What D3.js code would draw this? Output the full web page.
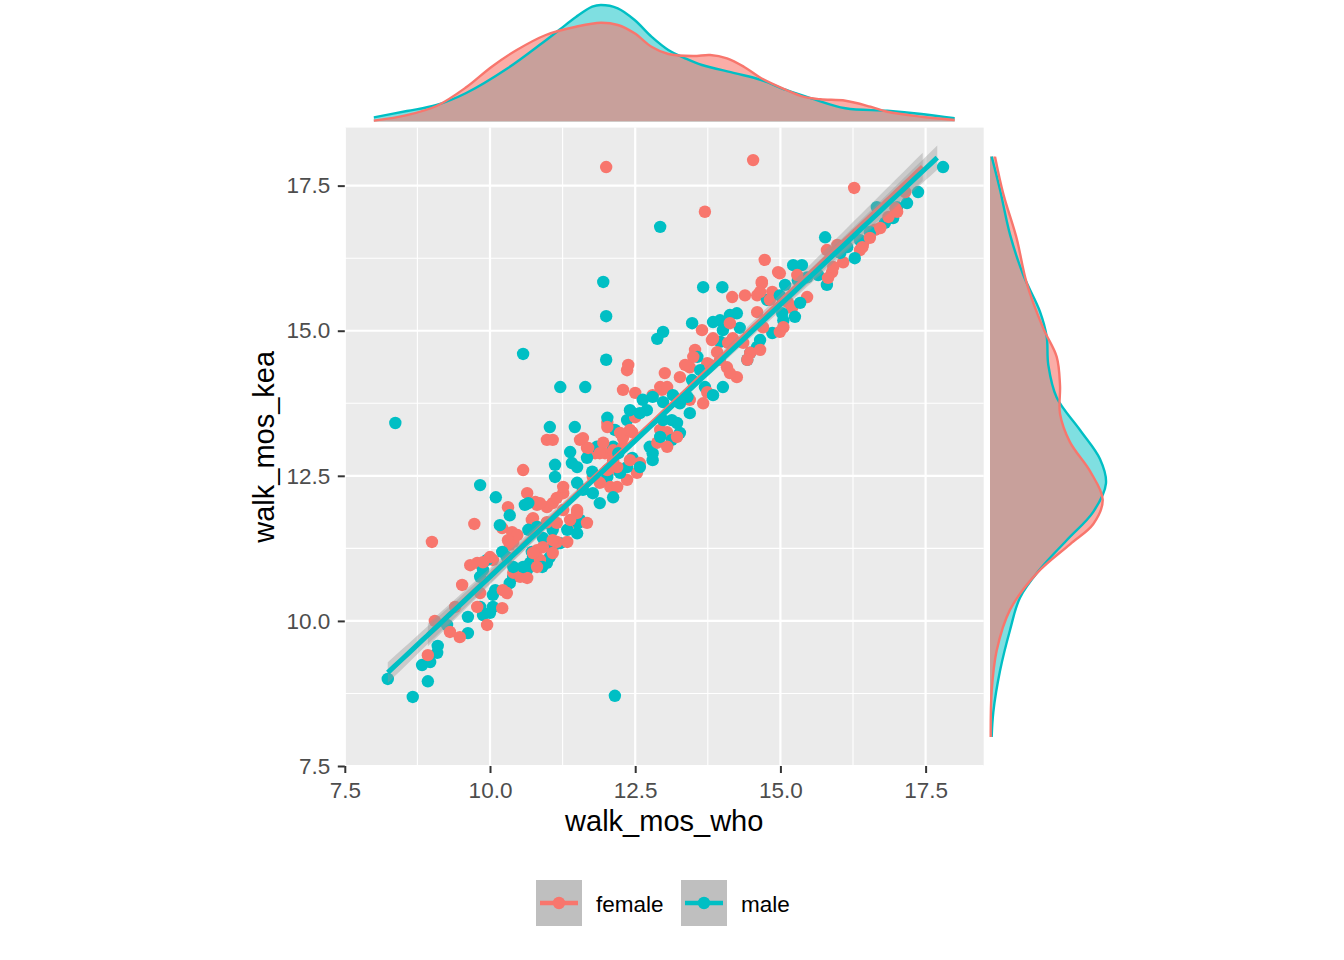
<!DOCTYPE html>
<html><head><meta charset="utf-8">
<script src="https://cdn.jsdelivr.net/npm/d3@7"></script>
<style>body{margin:0;background:#fff}text{font-family:"Liberation Sans",Arial,Helvetica,sans-serif}</style>
</head><body>
<svg id="chart" width="1344" height="960"></svg>
<script>
const groups = ["female", "male"];
const groupColors = ["#F8766D", "#00BFC4"];
const axisTicks = [7.5, 10, 12.5, 15, 17.5];
const axisTickLabels = ["7.5", "10.0", "12.5", "15.0", "17.5"];
const minorTicks = [8.75, 11.25, 13.75, 16.25];
const xTitle = "walk_mos_who";
const yTitle = "walk_mos_kea";

const femalePts = [[9.00,11.36],[9.73,11.67],[10.31,11.96],[10.64,12.20],[10.81,12.00],[10.98,11.96],[11.08,12.03],[10.21,11.60],[10.38,11.53],[10.40,11.36],[10.47,11.48],[10.72,11.74],[10.81,11.62],[9.66,10.96],[9.78,11.00],[10.05,11.05],[9.52,10.62],[9.40,10.24],[9.05,10.00],[9.31,9.81],[9.48,9.72],[9.95,9.93],[10.21,10.22],[10.22,10.53],[10.29,10.48],[9.83,10.48],[9.78,10.24],[10.40,10.83],[10.52,10.76],[10.64,10.74],[10.86,11.05],[10.81,11.22],[11.08,11.17],[11.15,11.36],[11.33,11.36],[11.41,11.70],[11.50,11.91],[8.93,9.41],
[10.98,13.12],[11.08,13.12],[10.57,12.60],[10.78,12.05],[10.86,12.03],[11.26,12.20],[10.74,11.77],[10.98,11.70],[11.15,11.69],[10.31,11.39],[10.34,11.31],[11.55,13.12],[11.67,12.98],[11.81,12.89],[11.98,12.89],[12.02,13.41],[12.29,13.98],[12.50,13.93],[12.36,14.32],[13.01,14.27],[12.96,13.98],[12.80,13.89],[12.50,13.51],[12.29,13.15],[12.45,13.25],[12.93,13.29],[13.05,13.25],[12.12,12.77],[12.19,12.60],[12.36,12.43],[12.53,12.55],[12.58,12.72],[11.77,12.48],[11.89,12.38],[12.07,12.31],[12.19,12.31],[11.26,12.31],[11.15,12.12],[11.26,11.91],[11.50,11.86],[11.67,11.69],[11.38,11.74],[11.08,11.39],[10.91,11.27],[10.74,11.17],[10.81,10.93],[10.00,11.10],[9.88,11.01],
[12.38,14.41],[13.27,14.20],[12.93,14.03],[13.05,14.03],[13.53,14.67],[13.44,14.37],[13.74,14.44],[13.96,14.50],[14.17,15.58],[14.39,15.61],[14.60,15.61],[14.68,15.82],[14.60,15.32],[14.86,15.67],[13.65,15.01],[13.82,14.84],[14.18,14.87],[14.08,14.37],[14.25,14.20],[14.13,14.27],[13.67,13.75],[13.74,13.94],[13.44,13.81],[12.41,13.29],[12.24,13.24],[12.02,13.34],[11.95,13.07],[11.89,12.89],[12.12,12.94],[12.88,13.07],[13.05,13.00],[13.22,13.17],[12.29,13.00],[12.41,12.77],[12.19,12.65],[12.02,12.60],[11.60,13.15],[11.69,12.98],
[13.70,17.05],[14.73,16.22],[14.96,16.01],[14.68,15.84],[14.65,15.67],[14.82,15.53],[15.13,15.49],[15.20,15.39],[15.46,15.58],[15.29,15.96],[15.80,16.39],[15.98,16.48],[16.08,16.18],[16.37,16.39],[16.63,16.74],[16.42,16.48],[15.89,16.01],[15.82,15.91],[13.84,14.87],[14.13,15.13],[14.10,14.79],[13.91,14.63],[13.50,14.55],[13.36,14.41],[14.36,14.79],[14.48,14.62],[14.65,14.67],[14.43,14.50],[13.79,14.41],[15.05,15.06],[14.99,14.98],[14.70,15.06],[16.27,17.46],[17.15,17.39],[17.01,17.05],[16.86,16.96],[16.41,16.44],[15.91,16.10],[14.99,15.99],[12.00,17.82],[14.53,17.94],[16.72,16.77],[16.98,17.11],[16.54,16.60]];

const malePts = [[9.83,12.34],[10.10,12.13],[8.24,9.00],[8.67,8.69],[8.93,8.96],[8.83,9.24],[8.97,9.29],[9.09,9.45],[9.10,9.57],[9.62,10.07],[9.62,9.79],[9.26,9.93],[9.88,10.10],[10.00,10.14],[9.83,10.24],[10.05,10.24],[10.05,10.45],[10.09,10.53],[9.83,10.76],[9.88,10.88],[9.95,11.05],[10.34,10.65],[10.40,10.76],[10.52,10.83],[10.64,10.88],[10.69,11.00],[10.74,11.10],[10.72,11.19],[10.98,11.00],[11.03,11.10],[11.08,11.27],[11.21,11.34],[10.17,11.65],[10.34,11.82],[10.60,12.00],[10.66,11.57],[10.91,11.43],[10.98,11.69],[11.08,11.57],[11.33,11.57],[11.50,11.51],[11.52,11.69],
[11.21,14.03],[11.64,14.03],[11.03,13.34],[11.46,13.34],[10.66,12.03],[11.38,12.91],[11.41,12.72],[11.50,12.65],[11.12,12.69],[11.12,12.48],[11.67,12.81],[11.84,13.00],[12.02,13.50],[12.15,13.29],[12.12,13.00],[12.36,13.46],[12.46,13.58],[12.63,13.81],[12.70,13.63],[12.80,13.86],[12.98,13.77],[13.13,13.46],[13.13,13.12],[12.80,12.89],[12.75,13.00],[12.45,12.81],[12.36,12.65],[12.24,12.55],[12.02,12.48],[11.50,12.38],[11.60,12.26],[11.77,12.20],[11.89,12.03],[12.12,12.13],[11.55,11.74],[10.81,11.62],[10.90,10.93],[10.57,10.93],[10.40,10.93],[10.29,11.10],[10.21,11.19],
[11.95,15.84],[12.00,15.25],[12.00,14.50],[12.98,14.98],[12.88,14.86],[13.48,15.13],[13.67,15.75],[14.00,15.75],[13.84,15.15],[13.96,15.18],[14.13,15.27],[14.25,15.30],[14.01,15.01],[13.96,14.81],[14.30,15.05],[14.77,15.53],[14.86,14.96],[14.65,14.84],[14.48,14.62],[14.43,14.50],[13.57,14.55],[13.62,14.32],[13.48,14.15],[13.70,14.03],[14.01,14.03],[13.84,13.89],[12.58,13.58],[12.41,13.63],[13.15,13.89],[13.27,13.75],[13.44,13.58],[12.98,13.46],[13.22,13.41],[13.27,13.24],[12.93,13.17],[12.21,12.89],[12.80,12.77],[12.58,12.65],[11.76,12.57],
[15.77,16.61],[15.22,16.13],[15.37,16.13],[15.30,15.87],[15.46,15.92],[15.65,15.96],[15.80,15.79],[15.08,15.79],[14.99,15.61],[15.05,15.18],[15.25,15.24],[16.66,17.13],[14.60,14.72],[13.40,13.86],[17.80,17.82],[17.37,17.39],[17.18,17.20],[17.01,17.13],[16.94,16.94],[16.80,16.86],[15.34,15.48],[15.03,15.30],[16.03,16.34],[16.15,16.44],[12.93,16.79],[10.57,14.60],[8.37,13.41],[12.15,8.71],[16.37,16.56],[16.54,16.70],[16.28,16.25]];

// linear fits: intercept, slope, x-range, se band params
const femaleFit = {intercept: 1.30, slope: 0.947, xmin: 8.93, xmax: 17.45, xbar: 12.7, se0: 0.05, seK: 0.05};
const maleFit   = {intercept: 1.38, slope: 0.938, xmin: 8.24, xmax: 17.70, xbar: 12.6, se0: 0.045, seK: 0.04};

// marginal densities (top: along x, right: along y)
const femaleTopX = [8.00,8.57,9.08,9.59,10.03,10.46,10.96,11.48,11.91,12.20,12.49,12.78,13.07,13.50,13.79,14.08,14.37,14.67,15.10,15.39,15.69,16.12,16.55,16.84,17.43,18.00];
const femaleTopD = [0.0014,0.0110,0.0266,0.0587,0.0941,0.1227,0.1485,0.1627,0.1696,0.1657,0.1514,0.1284,0.1159,0.1124,0.1142,0.1085,0.0941,0.0742,0.0541,0.0426,0.0381,0.0357,0.0254,0.0168,0.0082,0.0026];
const maleTopX = [8.00,8.57,9.08,9.59,10.31,10.90,11.19,11.48,11.76,11.91,12.20,12.49,12.78,13.07,13.36,13.65,14.23,14.67,15.10,15.53,16.12,16.84,17.43,18.00];
const maleTopD = [0.0072,0.0180,0.0283,0.0489,0.0918,0.1348,0.1571,0.1794,0.1971,0.2000,0.1943,0.1742,0.1456,0.1227,0.1085,0.0970,0.0827,0.0712,0.0541,0.0398,0.0227,0.0185,0.0129,0.0055];
const femaleRightY = [18.00,17.36,16.59,15.82,15.04,14.55,14.06,13.57,13.08,12.58,12.09,11.67,11.32,10.82,10.19,9.49,8.79,8.00];
const femaleRightD = [0.0086,0.0228,0.0458,0.0630,0.0915,0.1145,0.1202,0.1202,0.1373,0.1717,0.1935,0.1773,0.1373,0.0802,0.0343,0.0115,0.0029,0.0012];
const maleRightY = [18.00,17.43,16.66,15.96,15.33,14.90,14.41,13.85,13.29,12.79,12.37,11.88,11.39,10.89,10.40,9.84,9.14,8.43,8.00];
const maleRightD = [0.0029,0.0172,0.0343,0.0572,0.0858,0.0973,0.1001,0.1145,0.1545,0.1888,0.1991,0.1773,0.1317,0.0858,0.0515,0.0343,0.0172,0.0057,0.0029];

const svg = d3.select("#chart");
const P = {left: 344.8, right: 983.7, top: 127.6, bottom: 766};
const x = d3.scaleLinear().domain([7.5, 18.5]).range([P.left, P.right]);
const y = d3.scaleLinear().domain([7.5, 18.5]).range([P.bottom, P.top]);
const dTop = d3.scaleLinear().domain([0, 0.2]).range([121.5, 5]);
const dRight = d3.scaleLinear().domain([0, 0.2]).range([990, 1106.5]);
const color = d3.scaleOrdinal().domain(groups).range(groupColors);
const fillOpacity = {female: 0.6, male: 0.5};

// panel background
svg.append("rect").attr("x", P.left).attr("y", P.top)
  .attr("width", P.right - P.left).attr("height", P.bottom - P.top).attr("fill", "#EBEBEB");
const grid = svg.append("g");
minorTicks.forEach(v => {
  grid.append("line").attr("x1", x(v)).attr("x2", x(v)).attr("y1", P.top).attr("y2", P.bottom)
    .attr("stroke", "#fff").attr("stroke-width", 1.1);
  grid.append("line").attr("y1", y(v)).attr("y2", y(v)).attr("x1", P.left).attr("x2", P.right)
    .attr("stroke", "#fff").attr("stroke-width", 1.1);
});
axisTicks.forEach(v => {
  grid.append("line").attr("x1", x(v)).attr("x2", x(v)).attr("y1", P.top).attr("y2", P.bottom)
    .attr("stroke", "#fff").attr("stroke-width", 2.2);
  grid.append("line").attr("y1", y(v)).attr("y2", y(v)).attr("x1", P.left).attr("x2", P.right)
    .attr("stroke", "#fff").attr("stroke-width", 2.2);
});

// points, interleaved
const pts = [];
const n = Math.max(femalePts.length, malePts.length);
for (let i = 0; i < n; i++) {
  if (i < femalePts.length) pts.push({g: "female", v: femalePts[i]});
  if (i < malePts.length) pts.push({g: "male", v: malePts[i]});
}
svg.append("g").selectAll("circle").data(pts).join("circle")
  .attr("cx", d => x(d.v[0])).attr("cy", d => y(d.v[1])).attr("r", 6.2)
  .attr("fill", d => color(d.g));

// smooth lines with se bands
[["female", femaleFit], ["male", maleFit]].forEach(([g, f]) => {
  const xs = d3.range(0, 81).map(i => f.xmin + (f.xmax - f.xmin) * i / 80);
  const band = xs.map(v => {
    const m = f.intercept + f.slope * v;
    const h = Math.sqrt(f.se0 * f.se0 + Math.pow(f.seK * (v - f.xbar), 2));
    return {x: v, lo: m - h, hi: m + h, m};
  });
  svg.append("path").datum(band)
    .attr("d", d3.area().x(d => x(d.x)).y0(d => y(d.lo)).y1(d => y(d.hi)))
    .attr("fill", "#999999").attr("fill-opacity", 0.4);
  svg.append("path").datum(band)
    .attr("d", d3.line().x(d => x(d.x)).y(d => y(d.m)))
    .attr("fill", "none").attr("stroke", color(g)).attr("stroke-width", 5);
});

// axes
const xAxis = svg.append("g").attr("transform", `translate(0,${P.bottom})`)
  .call(d3.axisBottom(x).tickValues(axisTicks).tickFormat((d, i) => axisTickLabels[i])
    .tickSizeInner(7).tickSizeOuter(0).tickPadding(9));
const yAxis = svg.append("g").attr("transform", `translate(${P.left},0)`)
  .call(d3.axisLeft(y).tickValues(axisTicks).tickFormat((d, i) => axisTickLabels[i])
    .tickSizeInner(7).tickSizeOuter(0).tickPadding(7.5));
[xAxis, yAxis].forEach(a => {
  a.select(".domain").remove();
  a.selectAll(".tick line").attr("stroke", "#333333").attr("stroke-width", 2);
  a.selectAll(".tick text").attr("fill", "#4D4D4D").style("font-size", "22.5px")
    .style("font-family", '"Liberation Sans", Arial, sans-serif');
});

svg.append("text").attr("x", (P.left + P.right) / 2).attr("y", 831)
  .attr("text-anchor", "middle").style("font-size", "29px").attr("fill", "#000").text(xTitle);
svg.append("text").attr("transform", `translate(274,${(P.top + P.bottom) / 2}) rotate(-90)`)
  .attr("text-anchor", "middle").style("font-size", "29px").attr("fill", "#000").text(yTitle);

// marginal densities: fills first, then outlines
const topSeries = [
  {g: "male", xs: maleTopX, ds: maleTopD},
  {g: "female", xs: femaleTopX, ds: femaleTopD}
];
const rightSeries = [
  {g: "male", ys: maleRightY, ds: maleRightD},
  {g: "female", ys: femaleRightY, ds: femaleRightD}
];
const cr = d3.curveCatmullRom.alpha(0.5);
topSeries.forEach(s => {
  s.data = s.xs.map((v, i) => ({v, d: s.ds[i]}));
  svg.append("path").datum(s.data)
    .attr("d", d3.area().curve(cr).x(d => x(d.v)).y0(dTop(0)).y1(d => dTop(d.d)))
    .attr("fill", color(s.g)).attr("fill-opacity", fillOpacity[s.g]).attr("stroke", "none");
});
topSeries.forEach(s => {
  svg.append("path").datum(s.data)
    .attr("d", d3.line().curve(cr).x(d => x(d.v)).y(d => dTop(d.d)))
    .attr("fill", "none").attr("stroke", color(s.g)).attr("stroke-width", 2.4);
});
rightSeries.forEach(s => {
  s.data = s.ys.map((v, i) => ({v, d: s.ds[i]}));
  svg.append("path").datum(s.data)
    .attr("d", d3.area().curve(cr).y(d => y(d.v)).x0(dRight(0)).x1(d => dRight(d.d)))
    .attr("fill", color(s.g)).attr("fill-opacity", fillOpacity[s.g]).attr("stroke", "none");
});
rightSeries.forEach(s => {
  svg.append("path").datum(s.data)
    .attr("d", d3.line().curve(cr).y(d => y(d.v)).x(d => dRight(d.d)))
    .attr("fill", "none").attr("stroke", color(s.g)).attr("stroke-width", 2.4);
});

// legend
const legendX = [536, 681];
groups.forEach((g, i) => {
  const lg = svg.append("g").attr("transform", `translate(${legendX[i]},880)`);
  lg.append("rect").attr("width", 46).attr("height", 46).attr("fill", "#BFBFBF");
  lg.append("line").attr("x1", 4).attr("x2", 42).attr("y1", 23).attr("y2", 23)
    .attr("stroke", color(g)).attr("stroke-width", 4.5);
  lg.append("circle").attr("cx", 23).attr("cy", 23).attr("r", 6.2).attr("fill", color(g));
  lg.append("text").attr("x", 60).attr("y", 32).style("font-size", "22.5px").attr("fill", "#000").text(g);
});
</script>
</body></html>
